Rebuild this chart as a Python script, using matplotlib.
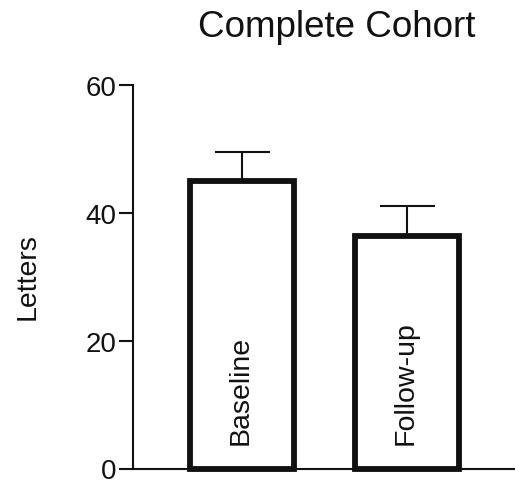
import matplotlib
matplotlib.use("Agg")
import matplotlib.pyplot as plt

categories = ["Baseline", "Follow-up"]
means = [45.0, 36.4]
errors_up = [4.5, 4.6]
yticks = [0, 20, 40, 60]

plt.rcParams['font.family'] = ['Liberation Sans', 'DejaVu Sans']

W, H = 515, 485
fig = plt.figure(figsize=(W / 100, H / 100), dpi=100)
ax = fig.add_axes([132.7 / W, 1 - 469.5 / H, (W - 132.7) / W, (469.5 - 85.7) / H])

x = list(range(len(categories)))
ax.errorbar(x, means, yerr=[[0] * len(means), errors_up], fmt='none',
            ecolor='#111111', elinewidth=1.5, capsize=19.8, capthick=1.5, zorder=1)
bars = ax.bar(x, means, width=0.634, color='white', edgecolor='#111111',
              linewidth=4.2, zorder=2)
for b in bars:
    b.set_joinstyle('miter')
    b.set_clip_on(False)

for xi, lab in zip(x, categories):
    ax.text(xi - 0.01, 3.8, lab, rotation=90, ha='center', va='bottom',
            fontsize=20.5, color='#111111', zorder=3)

ax.set_xlim(-0.662, 1.655)
ax.set_ylim(0, 60)
ax.set_yticks(yticks)
ax.set_yticklabels([str(t) for t in yticks])
ax.set_xticks([])
ax.spines['top'].set_visible(False)
ax.spines['right'].set_visible(False)
for s in ['left', 'bottom']:
    ax.spines[s].set_linewidth(1.5)
    ax.spines[s].set_color('#111111')
ax.tick_params(axis='y', length=10, width=1.5, pad=2, labelsize=20, colors='#111111')

fig.text(337 / W, 1 - 37 / H, "Complete Cohort", ha='center', va='baseline',
         fontsize=26.5, color='#111111')
fig.text(28 / W, 1 - 276.5 / H, "Letters", rotation=90, ha='center', va='center',
         fontsize=20.5, color='#111111')

fig.savefig("out.png", dpi=100)
